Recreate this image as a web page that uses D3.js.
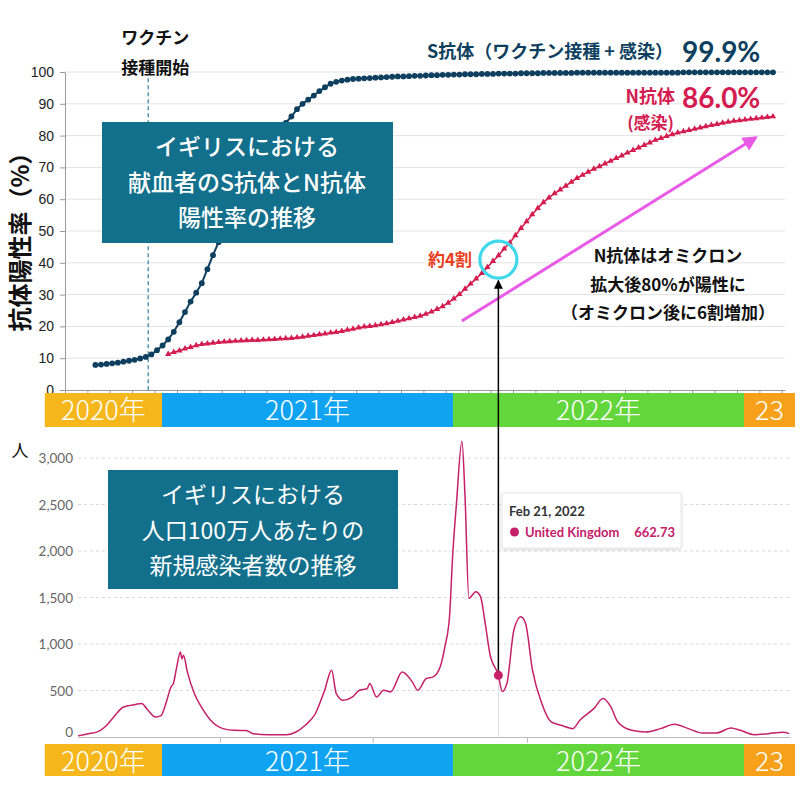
<!DOCTYPE html>
<html><head><meta charset="utf-8">
<script src="https://cdn.jsdelivr.net/npm/d3@7"></script>
<style>html,body{margin:0;padding:0;background:#fff;}svg{display:block;}</style>
</head><body>
<svg id="c" width="800" height="800"></svg>
<script>
// ---------------- DATA ----------------
// Top: weekly antibody positivity among UK blood donors (%)
const sStart = "2020-10-03";
const sValues = [7.9,8.0,8.2,8.4,8.6,8.9,9.2,9.5,9.9,10.4,
 11.2,12.5,14.0,15.9,18.3,21.3,24.5,27.8,30.6,33.6,
 38.0,42.4,46.5,50.5,54.5,58.3,62.0,65.5,68.8,71.8,
 74.6,77.2,79.6,81.8,84.0,86.0,88.3,90.0,91.3,92.6,
 94.0,95.2,96.3,96.9,97.3,97.6,97.8,97.9,98.0,98.1,
 98.2,98.3,98.4,98.5,98.6,98.6,98.7,98.8,98.8,98.9,
 99.0,99.0,99.1,99.1,99.2,99.2,99.3,99.3,99.3,99.4,
 99.4,99.4,99.5,99.5,99.5,99.5,99.6,99.6,99.6,99.6,
 99.7,99.7,99.7,99.7,99.7,99.7,99.8,99.8,99.8,99.8,
 99.8,99.8,99.8,99.8,99.8,99.8,99.8,99.8,99.8,99.8,
 99.8,99.8,99.8,99.8,99.8,99.9,99.9,99.9,99.9,99.9,
 99.9,99.9,99.9,99.9,99.9,99.9,99.9,99.9,99.9,99.9,99.9,99.9];
const nStart = "2021-01-02";
const nValues = [11.3,11.9,12.4,13.0,13.5,14.0,14.4,14.6,14.8,15.0,
 15.2,15.3,15.4,15.5,15.6,15.7,15.7,15.8,15.9,16.0,
 16.1,16.2,16.3,16.5,16.7,17.0,17.2,17.5,17.7,18.0,
 18.2,18.5,18.9,19.2,19.6,19.9,20.1,20.3,20.6,20.9,
 21.3,21.7,22.1,22.5,22.9,23.3,23.9,24.6,25.4,26.3,
 27.4,28.7,30.1,31.8,33.4,35.0,36.7,38.6,40.5,42.3,
 44.4,46.3,48.6,50.9,53.0,55.2,57.2,59.0,60.5,61.8,
 63.0,64.2,65.4,66.6,67.6,68.6,69.5,70.3,71.2,72.0,
 72.9,73.7,74.6,75.4,76.2,77.0,77.8,78.6,79.2,79.8,
 80.4,80.9,81.3,81.7,82.1,82.5,82.9,83.3,83.6,84.0,
 84.3,84.6,84.8,85.0,85.2,85.4,85.6,85.8,86.0];
const topTicks = [0,10,20,30,40,50,60,70,80,90,100];
const vaccineDate = "2020-12-08";

// Bottom: daily new cases per million (UK)
const caseDates = ["2020-08-28","2020-09-10","2020-09-22","2020-10-04","2020-10-13","2020-10-25","2020-11-03","2020-11-10","2020-11-18","2020-11-26",
 "2020-12-06","2020-12-13","2020-12-20","2020-12-26","2020-12-29","2021-01-02","2021-01-07","2021-01-09","2021-01-11","2021-01-16",
 "2021-01-25","2021-02-03","2021-02-15","2021-03-03","2021-03-18","2021-04-02","2021-04-11","2021-04-30","2021-05-24","2021-06-05",
 "2021-06-17","2021-06-30","2021-07-12","2021-07-21","2021-07-27","2021-08-05","2021-08-17","2021-08-26","2021-09-05","2021-09-08",
 "2021-09-17","2021-09-26","2021-10-05","2021-10-20","2021-11-02","2021-11-09","2021-11-20","2021-11-29","2021-12-08","2021-12-14",
 "2021-12-20","2021-12-24","2021-12-29","2022-01-05","2022-01-09","2022-01-14","2022-01-23","2022-01-29","2022-02-04","2022-02-10",
 "2022-02-21","2022-02-26","2022-03-04","2022-03-13","2022-03-22","2022-03-28","2022-04-06","2022-04-18","2022-04-30","2022-05-13",
 "2022-05-28","2022-06-06","2022-06-24","2022-07-06","2022-07-16","2022-07-25","2022-08-12","2022-08-30","2022-09-18","2022-10-06",
 "2022-10-24","2022-11-11","2022-11-29","2022-12-18","2022-12-30","2023-01-17","2023-02-04","2023-02-23","2023-03-03"];
const caseValues = [12,36,55,126,215,320,340,350,360,290,
 215,230,380,540,575,740,915,840,880,700,
 467,323,180,90,72,70,36,25,25,54,
 126,250,503,719,467,395,431,503,521,575,
 431,503,485,700,593,503,629,647,755,970,
 1293,1940,2515,3180,2587,1491,1563,1509,1222,898,
 662.73,490,575,1150,1293,1222,719,359,162,126,
 90,180,305,413,323,162,72,54,90,137,
 90,43,43,97,72,25,36,50,36];
const caseTicks = [0,500,1000,1500,2000,2500,3000];
const caseAxisTicks = ["2021-02-27","2021-09-12","2022-03-30"];
const tooltipDate = "2022-02-21";

// Year banners
const yearLabels = ["2020年","2021年","2022年","23"];
const yearStarts = ["2020-08-07","2021-01-01","2022-01-01","2023-01-01"];
const yearEnds   = ["2021-01-01","2022-01-01","2023-01-01","2023-03-06"];
const yearColors = ["#f5b71c","#0fa3f2","#62d63a","#f7a11b"];

// ---------------- DRAW ----------------
const parse = d3.timeParse("%Y-%m-%d");
const svg = d3.select("#c");
const JP = '"Noto Sans CJK JP","Noto Sans",sans-serif';
const NAVY="#0e3f5e", CRIMSON="#d41c50", TEAL="#13708c", CASE="#c5206a", MAGENTA="#e95ae6", CYAN="#40d8ea";

const defs = svg.append("defs");
defs.append("marker").attr("id","mag").attr("viewBox","0 0 10 10").attr("refX",8).attr("refY",5)
  .attr("markerWidth",6).attr("markerHeight",5).attr("orient","auto").attr("markerUnits","strokeWidth")
  .append("path").attr("d","M0,0L10,5L0,10Z").attr("fill",MAGENTA);
defs.append("marker").attr("id","blk").attr("viewBox","0 0 10 10").attr("refX",9).attr("refY",5)
  .attr("markerWidth",6).attr("markerHeight",6).attr("orient","auto").attr("markerUnits","strokeWidth")
  .append("path").attr("d","M0,0L10,5L0,10Z").attr("fill","#000");
const sh = defs.append("filter").attr("id","shadow").attr("x","-20%").attr("y","-20%").attr("width","140%").attr("height","150%");
sh.append("feDropShadow").attr("dx",0).attr("dy",1).attr("stdDeviation",1.5).attr("flood-color","#000").attr("flood-opacity",0.18);

// ---- Top chart ----
const xTop = d3.scaleTime([parse("2020-08-26"), parse("2023-02-12")], [65, 785]);
const yTop = d3.scaleLinear([0,100],[390,72]);

svg.append("g").selectAll("line").data(topTicks.filter(d=>d>0)).join("line")
  .attr("x1",65).attr("x2",785).attr("y1",d=>yTop(d)).attr("y2",d=>yTop(d))
  .attr("stroke","#e3e3e3").attr("stroke-width",1);

const gy = svg.append("g").attr("transform","translate(65,0)")
  .call(d3.axisLeft(yTop).tickValues(topTicks).tickSize(5).tickSizeOuter(0).tickPadding(6));
gy.selectAll("path,line").attr("stroke","#999");
gy.selectAll("text").attr("font-family","'Liberation Sans',Arial,sans-serif").attr("font-size",14).attr("fill","#222");

const gx = svg.append("g").attr("transform","translate(0,390)")
  .call(d3.axisBottom(xTop).tickValues(d3.timeDay.range(xTop.domain()[0], xTop.domain()[1], 28))
    .tickSize(5).tickSizeOuter(0).tickFormat(""));
gx.selectAll("path,line").attr("stroke","#999");

// vaccine start line
const vx = xTop(parse(vaccineDate));
svg.append("line").attr("x1",vx).attr("x2",vx).attr("y1",yTop(98)).attr("y2",yTop(0))
  .attr("stroke","#4b8fae").attr("stroke-width",1.4).attr("stroke-dasharray","4,3");
svg.append("text").attr("x",vx+7).attr("y",44).attr("text-anchor","middle")
  .attr("font-family",JP).attr("font-weight",700).attr("font-size",17).attr("fill","#111").text("ワクチン");
svg.append("text").attr("x",vx+7).attr("y",74).attr("text-anchor","middle")
  .attr("font-family",JP).attr("font-weight",700).attr("font-size",17).attr("fill","#111").text("接種開始");

const sData = sValues.map((v,i)=>({date:d3.timeDay.offset(parse(sStart),7*i), v}));
const nData = nValues.map((v,i)=>({date:d3.timeDay.offset(parse(nStart),7*i), v}));
const lineTop = d3.line().x(d=>xTop(d.date)).y(d=>yTop(d.v));

svg.append("path").datum(nData).attr("d",lineTop).attr("fill","none").attr("stroke",CRIMSON).attr("stroke-width",1.6);
svg.append("g").selectAll("path").data(nData).join("path")
  .attr("transform",d=>`translate(${xTop(d.date)},${yTop(d.v)})`)
  .attr("d",d3.symbol(d3.symbolTriangle,17)).attr("fill",CRIMSON);

svg.append("path").datum(sData).attr("d",lineTop).attr("fill","none").attr("stroke",NAVY).attr("stroke-width",2);
svg.append("g").selectAll("circle").data(sData).join("circle")
  .attr("cx",d=>xTop(d.date)).attr("cy",d=>yTop(d.v)).attr("r",2.9).attr("fill",NAVY);

// y-axis title
svg.append("text").attr("transform","translate(29,236) rotate(-90)").attr("text-anchor","middle")
  .attr("font-family",JP).attr("font-weight",700).attr("font-size",24).attr("fill","#111").text("抗体陽性率（%）");

// top title box
svg.append("rect").attr("x",102).attr("y",122).attr("width",291).attr("height",121).attr("fill",TEAL);
["イギリスにおける","献血者のS抗体とN抗体","陽性率の推移"].forEach((t,i)=>{
  svg.append("text").attr("x",247).attr("y",155+i*35.5).attr("text-anchor","middle")
    .attr("font-family",JP).attr("font-weight",500).attr("font-size",23).attr("fill","#fff").text(t);
});

// series labels
const fmt1 = d3.format(".1f");
svg.append("text").attr("x",673).attr("y",58).attr("text-anchor","end")
  .attr("font-family",JP).attr("font-weight",700).attr("font-size",18).attr("fill",NAVY).text("S抗体（ワクチン接種 + 感染）");
svg.append("text").attr("x",682).attr("y",62)
  .attr("font-family","Lato,sans-serif").attr("font-weight",700).attr("font-size",28).attr("fill",NAVY)
  .text(fmt1(sValues[sValues.length-1])+"%");
svg.append("text").attr("x",675).attr("y",103).attr("text-anchor","end")
  .attr("font-family",JP).attr("font-weight",700).attr("font-size",18).attr("fill",CRIMSON).text("N抗体");
svg.append("text").attr("x",682).attr("y",108)
  .attr("font-family","Lato,sans-serif").attr("font-weight",700).attr("font-size",28).attr("fill",CRIMSON)
  .text(fmt1(nValues[nValues.length-1])+"%");
svg.append("text").attr("x",674).attr("y",129).attr("text-anchor","end")
  .attr("font-family",JP).attr("font-weight",700).attr("font-size",17).attr("fill",CRIMSON).text("(感染)");

// ---- Bottom chart scales (needed for annotation link) ----
const xBot = d3.scaleTime([parse("2020-08-28"), parse("2023-03-04")], [78, 790]);
const yBot = d3.scaleLinear([0,3000],[737,458]);
const cases = caseDates.map((d,i)=>({date:parse(d), v:caseValues[i]}));
const tip = cases.find(d=>+d.date===+parse(tooltipDate));
const ax = xBot(tip.date);

// annotations on top chart
svg.append("circle").attr("cx",ax).attr("cy",yTop(41)).attr("r",18.5)
  .attr("fill","none").attr("stroke",CYAN).attr("stroke-width",3.2);
svg.append("text").attr("x",472).attr("y",266).attr("text-anchor","end")
  .attr("font-family",JP).attr("font-weight",700).attr("font-size",17).attr("fill","#e8401c").text("約4割");
svg.append("line")
  .attr("x1",xTop(parse("2022-01-04"))).attr("y1",yTop(21.7))
  .attr("x2",xTop(parse("2023-01-06"))).attr("y2",yTop(79.3))
  .attr("stroke",MAGENTA).attr("stroke-width",3).attr("marker-end","url(#mag)");
["N抗体はオミクロン","拡大後80%が陽性に","（オミクロン後に6割増加）"].forEach((t,i)=>{
  svg.append("text").attr("x",668).attr("y",262+i*28.5).attr("text-anchor","middle")
    .attr("font-family",JP).attr("font-weight",700).attr("font-size",17).attr("fill","#111").text(t);
});

// year banner helper
const xBan = d3.scaleTime([parse("2021-01-01"), parse("2023-01-01")], [162, 744]);
function banner(y, h, dy){
  const g = svg.append("g");
  yearLabels.forEach((lab,i)=>{
    const x0 = xBan(parse(yearStarts[i])), x1 = xBan(parse(yearEnds[i]));
    g.append("rect").attr("x",x0).attr("y",y).attr("width",x1-x0).attr("height",h).attr("fill",yearColors[i]);
    g.append("text").attr("x",(x0+x1)/2).attr("y",y+h/2+dy).attr("text-anchor","middle")
      .attr("font-family",JP).attr("font-weight",300).attr("font-size",27).attr("fill","#fff").text(lab);
  });
}
banner(393, 34, 10);

// ---- Bottom chart ----
svg.append("text").attr("x",20).attr("y",457).attr("text-anchor","middle")
  .attr("font-family",JP).attr("font-size",17).attr("fill","#111").text("人");
svg.append("g").selectAll("line").data(caseTicks.filter(d=>d>0)).join("line")
  .attr("x1",78).attr("x2",790).attr("y1",d=>yBot(d)).attr("y2",d=>yBot(d))
  .attr("stroke","#d8d8d8").attr("stroke-dasharray","3,3");
svg.append("g").selectAll("text").data(caseTicks).join("text")
  .attr("x",73).attr("y",d=>yBot(d)+(d===0?-0.5:5)).attr("text-anchor","end")
  .attr("font-family","Lato,sans-serif").attr("font-size",13.5).attr("fill","#666")
  .text(d3.format(","));
const gxb = svg.append("g").attr("transform","translate(0,737)")
  .call(d3.axisBottom(xBot).tickValues(caseAxisTicks.map(parse)).tickSize(6).tickSizeOuter(0).tickFormat(""));
gxb.selectAll("path,line").attr("stroke","#bbb");

// hover line
svg.append("line").attr("x1",ax).attr("x2",ax).attr("y1",yBot(3000)).attr("y2",yBot(0))
  .attr("stroke","#ddd").attr("stroke-width",1);

svg.append("path").datum(cases)
  .attr("d",d3.line().x(d=>xBot(d.date)).y(d=>yBot(d.v)).curve(d3.curveMonotoneX))
  .attr("fill","none").attr("stroke",CASE).attr("stroke-width",1.5);

// bottom title box
svg.append("rect").attr("x",108).attr("y",470).attr("width",290).attr("height",119).attr("fill",TEAL);
["イギリスにおける","人口100万人あたりの","新規感染者数の推移"].forEach((t,i)=>{
  svg.append("text").attr("x",253).attr("y",503+i*35.5).attr("text-anchor","middle")
    .attr("font-family",JP).attr("font-weight",400).attr("font-size",23).attr("fill","#fff").text(t);
});

// tooltip
const tg = svg.append("g");
tg.append("rect").attr("x",502).attr("y",493).attr("width",179).attr("height",55).attr("rx",2)
  .attr("fill","#fff").attr("stroke","#e8e8e8").attr("filter","url(#shadow)");
tg.append("text").attr("x",509).attr("y",516).attr("font-family","Lato,sans-serif").attr("font-weight",700)
  .attr("font-size",13).attr("fill","#333").text(d3.timeFormat("%b %-d, %Y")(tip.date));
tg.append("circle").attr("cx",514.5).attr("cy",532).attr("r",4.5).attr("fill",CASE);
tg.append("text").attr("x",525).attr("y",537).attr("font-family","Lato,sans-serif").attr("font-weight",700)
  .attr("font-size",13).attr("fill",CASE).text("United Kingdom");
tg.append("text").attr("x",675).attr("y",537).attr("text-anchor","end").attr("font-family","Lato,sans-serif")
  .attr("font-weight",700).attr("font-size",13).attr("fill",CASE).text(d3.format(".2f")(tip.v));

banner(744, 32, 11);

// marker dot + black arrow to the circle
svg.append("line").attr("x1",ax).attr("x2",ax).attr("y1",yBot(tip.v)).attr("y2",yTop(41)+21)
  .attr("stroke","#000").attr("stroke-width",1.5).attr("marker-end","url(#blk)");
svg.append("circle").attr("cx",ax).attr("cy",yBot(tip.v)).attr("r",4.5).attr("fill",CASE);
</script>
</body></html>
